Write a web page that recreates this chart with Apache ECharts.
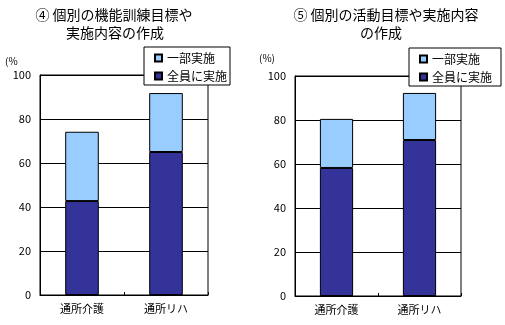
<!DOCTYPE html>
<html><head><meta charset="utf-8">
<script src="https://cdn.jsdelivr.net/npm/echarts@6/dist/echarts.min.js"></script>
<style>html,body{margin:0;padding:0;background:#fff}#c{width:505px;height:325px}</style>
</head><body><div id="c"></div>
<script>
var categories = ['通所介護', '通所リハ'];
var seriesNames = ['一部実施', '全員に実施'];
var yTicks = [0, 20, 40, 60, 80, 100];
// Chart ④
var chart4Full = [42.7, 65.0];
var chart4Partial = [31.5, 26.8];
// Chart ⑤
var chart5Full = [58.2, 70.9];
var chart5Partial = [22.3, 21.4];

var FONT = '"Noto Sans CJK JP", sans-serif';
var chart = echarts.init(document.getElementById('c'), null, {renderer: 'canvas'});

function yAx(gi) {
  return {
    gridIndex: gi, type: 'value', min: yTicks[0], max: yTicks[yTicks.length - 1], interval: 20,
    axisLine: {show: true, lineStyle: {color: '#000', width: 1}},
    axisTick: {show: false},
    axisLabel: {color: '#000', fontSize: 11, fontFamily: FONT, margin: 9},
    splitLine: {show: true, lineStyle: {color: '#000', width: 1}}
  };
}
function xAx(gi) {
  return {
    gridIndex: gi, type: 'category', data: categories,
    axisLine: {show: true, lineStyle: {color: '#000', width: 1}},
    axisTick: {show: true, inside: true, length: 3, lineStyle: {color: '#000'}},
    axisLabel: {color: '#000', fontSize: 11, fontFamily: FONT, margin: 8}
  };
}
function legend(left, top, padR) {
  return {
    data: seriesNames, orient: 'vertical', left: left, top: top,
    backgroundColor: '#fff', borderColor: '#000', borderWidth: 1, borderRadius: 0,
    padding: [5, padR, 3, 10], itemGap: 6, itemWidth: 7, itemHeight: 7, itemTextGap: 5,
    icon: 'rect', selectedMode: false,
    textStyle: {color: '#000', fontSize: 12, fontFamily: FONT}
  };
}
var darkStyle = {color: '#333399', borderColor: '#000', borderWidth: 1};
var lightStyle = {color: '#99CCFF', borderColor: '#000', borderWidth: 1};

function bar(name, gi, stack, data, style) {
  return {
    name: name, type: 'bar', xAxisIndex: gi, yAxisIndex: gi, stack: stack, data: data,
    barWidth: '40%', itemStyle: style, animation: false, silent: true
  };
}

chart.setOption({
  animation: false,
  grid: [
    {left: 40, top: 75, width: 168, height: 220, show: true, borderColor: '#000', borderWidth: 1, backgroundColor: 'transparent'},
    {left: 295, top: 76, width: 166, height: 220, show: true, borderColor: '#000', borderWidth: 1, backgroundColor: 'transparent'}
  ],
  xAxis: [xAx(0), xAx(1)],
  yAxis: [yAx(0), yAx(1)],
  legend: [legend(144, 47, 3), legend(409, 48, 9)],
  graphic: [
    {type: 'text', x: 114, y: 8, style: {text: '④ 個別の機能訓練目標や', font: '14px ' + FONT, fill: '#000', textAlign: 'center'}},
    {type: 'text', x: 115, y: 26, style: {text: '実施内容の作成', font: '14px ' + FONT, fill: '#000', textAlign: 'center'}},
    {type: 'text', x: 386, y: 8, style: {text: '⑤ 個別の活動目標や実施内容', font: '14px ' + FONT, fill: '#000', textAlign: 'center'}},
    {type: 'text', x: 381, y: 26, style: {text: 'の作成', font: '14px ' + FONT, fill: '#000', textAlign: 'center'}},
    {type: 'text', x: 5, y: 56, style: {text: '(%', font: '10px ' + FONT, fill: '#000'}},
    {type: 'text', x: 259, y: 53, style: {text: '(%)', font: '10px ' + FONT, fill: '#000'}}
  ],
  series: [
    bar(seriesNames[1], 0, 'a', chart4Full, darkStyle),
    bar(seriesNames[0], 0, 'a', chart4Partial, lightStyle),
    bar(seriesNames[1], 1, 'b', chart5Full, darkStyle),
    bar(seriesNames[0], 1, 'b', chart5Partial, lightStyle)
  ]
});
</script></body></html>
